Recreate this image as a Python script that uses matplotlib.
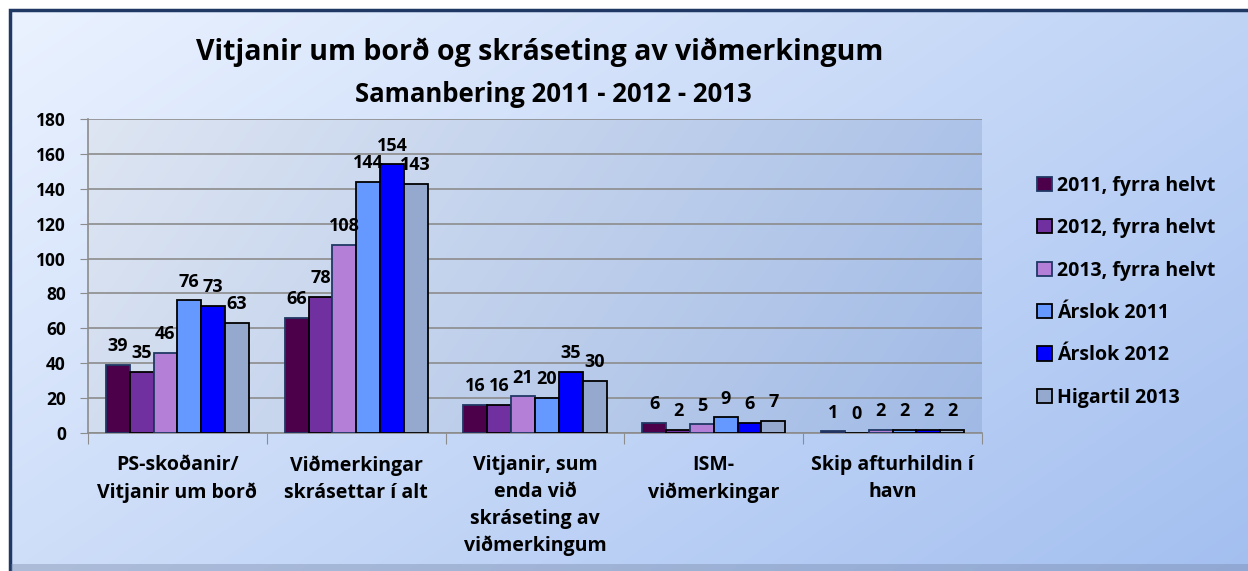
import numpy as np
import matplotlib.pyplot as plt
from matplotlib.patches import Rectangle

categories = ["PS-skoðanir/\nVitjanir um borð",
              "Viðmerkingar\nskrásettar í alt",
              "Vitjanir, sum\nenda við\nskráseting av\nviðmerkingum",
              "ISM-\nviðmerkingar",
              "Skip afturhildin í\nhavn"]
series_names = ["2011, fyrra helvt", "2012, fyrra helvt", "2013, fyrra helvt",
                "Árslok 2011", "Árslok 2012", "Higartil 2013"]
s2011_h1 = [39, 66, 16, 6, 1]
s2012_h1 = [35, 78, 16, 2, 0]
s2013_h1 = [46, 108, 21, 5, 2]
end2011 = [76, 144, 20, 9, 2]
end2012 = [73, 154, 35, 6, 2]
sofar2013 = [63, 143, 30, 7, 2]
series = [s2011_h1, s2012_h1, s2013_h1, end2011, end2012, sofar2013]
colors = ["#4B0049", "#7030A0", "#B47FD6", "#6699FF", "#0000FF", "#95A9CF"]
edges = ["#1F3864", "#000000", "#1F3864", "#000000", "#000000", "#000000"]

plt.rcParams['font.family'] = ['Open Sans', 'DejaVu Sans']
plt.rcParams['font.weight'] = 'bold'

W, H = 1248, 571
fig = plt.figure(figsize=(W / 100, H / 100), dpi=100)

# background gradient for whole chart
bg = fig.add_axes([0, 0, 1, 1], zorder=-10)
yy, xx = np.mgrid[0:1:200j, 0:1:400j]
t = np.clip(0.6 * xx + 0.4 * yy, 0, 1)
c0 = np.array([0.92, 0.95, 1.0])
c1 = np.array([0.64, 0.75, 0.94])
img = c0 + (c1 - c0) * t[..., None]
bg.imshow(img, extent=[10 / W, 1, 0, 1 - 10 / H], origin='upper', aspect='auto')
bg.set_xlim(0, 1)
bg.set_ylim(0, 1)
bg.axis('off')
bg.add_patch(Rectangle((10 / W, -0.01), 1.0, 1 - 10 / H + 0.01, fill=False,
                       edgecolor="#1F3864", linewidth=2.5))
bg.add_patch(Rectangle((11 / W, 0), 1, 7 / H, facecolor="#6F7F9F", alpha=0.35, edgecolor='none'))

ax = fig.add_axes([88 / W, (H - 433) / H, (982 - 88) / W, (433 - 119) / H])
# plot area gradient
yy2, xx2 = np.mgrid[0:1:100j, 0:1:300j]
t2 = np.clip(0.8 * xx2 + 0.2 * yy2, 0, 1)
p0 = np.array([0.87, 0.90, 0.95])
p1 = np.array([0.63, 0.73, 0.90])
ax.imshow(p0 + (p1 - p0) * t2[..., None], extent=[-0.5, 4.5, 0, 180],
          origin='upper', aspect='auto', zorder=0)

x = np.arange(len(categories))
bw = 0.8 / len(series)
for i, (vals, col, ec, name) in enumerate(zip(series, colors, edges, series_names)):
    pos = x - 0.4 + bw * (i + 0.5)
    ax.bar(pos, vals, width=bw, color=col, edgecolor=ec, linewidth=1.3,
           label=name, zorder=3)
    for px, v in zip(pos, vals):
        ax.annotate(str(v), (px, v), xytext=(0, 7), textcoords='offset points',
                    ha='center', va='bottom', fontsize=13, fontweight='bold', zorder=4)

ax.set_xlim(-0.5, 4.5)
ax.set_ylim(0, 180)
ax.set_yticks(np.arange(0, 181, 20))
ax.yaxis.grid(True, color="#8C8C8C", linewidth=1.2, zorder=1)
ax.set_axisbelow(True)
ax.set_xticks(np.arange(-0.5, 4.6, 1))
ax.set_xticklabels([])
ax.set_xticks(x, minor=True)
ax.set_xticklabels(categories, minor=True, fontsize=14, fontweight='bold', linespacing=1.45)
ax.tick_params(axis='x', which='minor', length=0, pad=16)
ax.tick_params(axis='x', which='major', length=8, color="#8C8C8C", direction='out')
ax.tick_params(axis='y', length=6, color="#8C8C8C", labelsize=12.5, pad=10)
for lab in ax.get_yticklabels():
    lab.set_fontweight('bold')
for s in ['top', 'right']:
    ax.spines[s].set_visible(False)
for s in ['left', 'bottom']:
    ax.spines[s].set_color("#8C8C8C")
    ax.spines[s].set_linewidth(1.2)

fig.text(540 / W, 1 - 52 / H, "Vitjanir um borð og skráseting av viðmerkingum",
         ha='center', va='center', fontsize=20.5, fontweight='bold')
fig.text(553 / W, 1 - 95 / H, "Samanbering 2011 - 2012 - 2013",
         ha='center', va='center', fontsize=18.5, fontweight='bold')

leg = ax.legend(loc='center left', bbox_to_anchor=(1.042, 0.45), frameon=False,
                labelspacing=1.15, handlelength=0.75, handleheight=0.75,
                handletextpad=0.3, prop={'weight': 'bold', 'size': 14})

fig.savefig("out.png", dpi=100)
